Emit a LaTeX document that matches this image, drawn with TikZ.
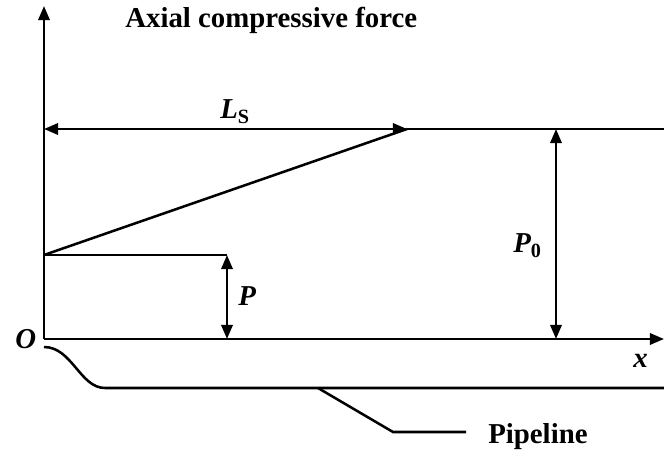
\documentclass[tikz,border=0pt]{standalone}
\usepackage{fontspec}
\setmainfont{Liberation Serif}
\usetikzlibrary{arrows.meta}
\tikzset{
  axisline/.style={line width=1.8pt,-{Triangle[length=10pt,width=8pt]}},
  dimline/.style={line width=1.8pt,{Triangle[length=10pt,width=8pt]}-{Triangle[length=10pt,width=8pt]}},
  plainline/.style={line width=1.8pt},
  lbl/.style={inner sep=0pt,font=\fontsize{20.5}{24}\selectfont\bfseries},
  symlbl/.style={lbl,font=\fontsize{20.5}{24}\selectfont\bfseries\itshape}
}

\begin{document}
\begin{tikzpicture}[x=0.025cm,y=-0.025cm]
        \useasboundingbox (0,0) rectangle (664,452);
        \coordinate (O)     at (44,339);
        \coordinate (ytop)  at (44,6);
        \coordinate (xend)  at (664,339);
        \coordinate (lsL)   at (44,129);
        \coordinate (lsR)   at (407,129);
        \coordinate (topR)  at (664,129);
        \coordinate (pL)    at (44,255);
        \coordinate (pR)    at (227,255);
        \coordinate (pB)    at (227,339);
        \coordinate (pzT)   at (556,129);
        \coordinate (pzB)   at (556,339);
        \coordinate (pipeA) at (44,347);
        \coordinate (pipeB) at (105,388);
        \coordinate (pipeC) at (664,388);
        \coordinate (leadA) at (318,388);
        \coordinate (leadB) at (393,432);
        \coordinate (leadC) at (466,432);
        % axes
        \draw[axisline] (O) -- (ytop);
        \draw[axisline] (O) -- (xend);
        % force diagram
        \draw[dimline] (lsL) -- (lsR);
        \draw[plainline] (lsR) -- (topR);
        \draw[plainline] (pL) -- (lsR);
        \draw[plainline] (pL) -- (pR);
        \draw[dimline] (pR) -- (pB);
        \draw[dimline] (pzT) -- (pzB);
        % pipeline
        \draw[plainline] (pipeA) .. controls (72,347) and (80,388) .. (pipeB) -- (pipeC);
        \draw[plainline] (leadA) -- (leadB) -- (leadC);
        % labels
        \node[lbl,anchor=base west] (title) at (125,28) {Axial compressive force};
        \node[lbl,anchor=base west] (pipe) at (488,443) {Pipeline};
        \node[symlbl,anchor=base west] (ls) at (220,119) {L\textsubscript{\upshape S}};
        \node[symlbl,anchor=base west] (plbl) at (238,306) {P};
        \node[symlbl,anchor=base west] (p0) at (513,253) {P\textsubscript{\upshape 0}};
        \node[symlbl,anchor=base west] (olbl) at (15,348) {O};
        \node[symlbl,anchor=base west] (xlbl) at (633,367) {x};
      \end{tikzpicture}
\end{document}
